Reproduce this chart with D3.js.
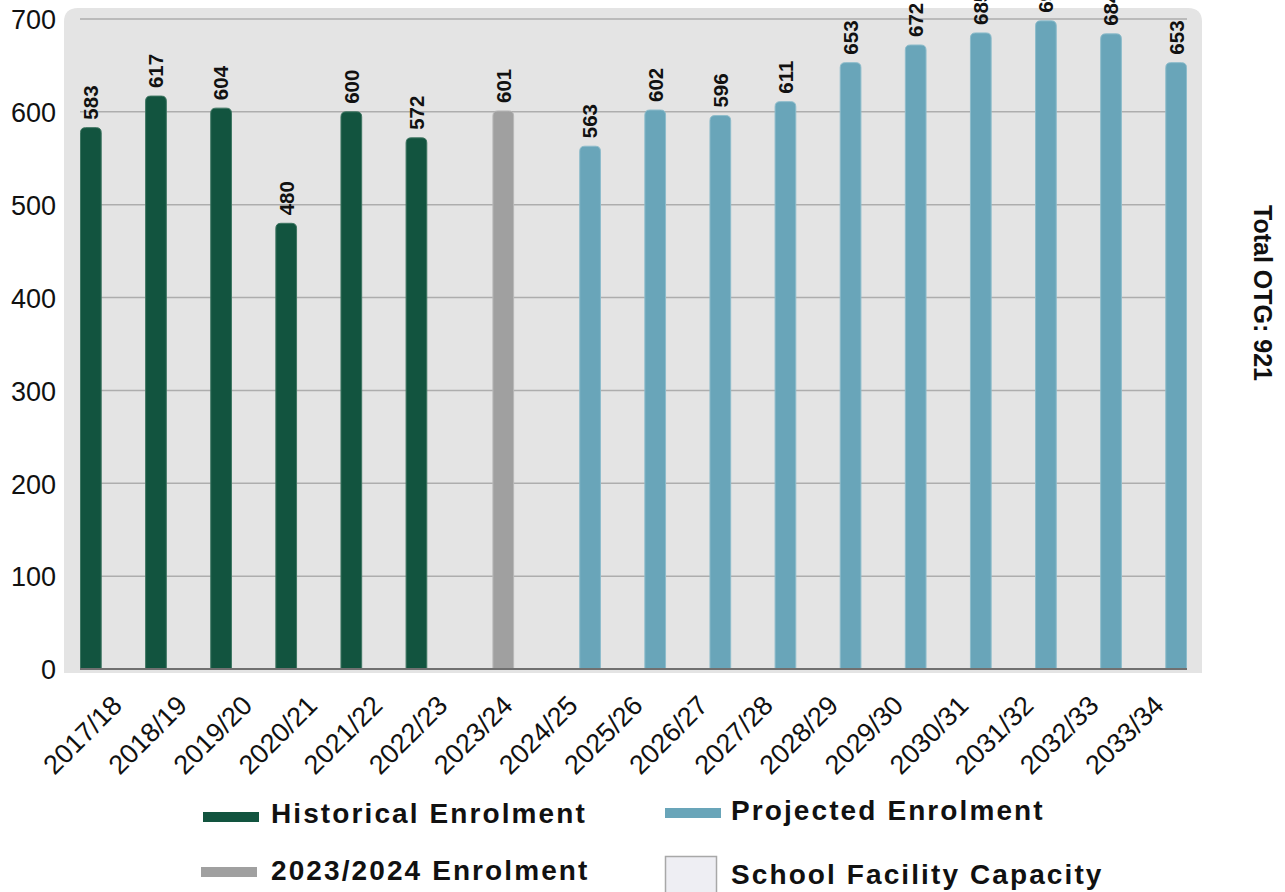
<!DOCTYPE html>
<html>
<head>
<meta charset="utf-8">
<script src="https://cdn.jsdelivr.net/npm/d3@7/dist/d3.min.js"></script>
<style>
  html, body { margin: 0; padding: 0; background: #ffffff; }
  svg { display: block; font-family: "Liberation Sans", Arial, sans-serif; }
</style>
</head>
<body>
<svg id="chart" width="1285" height="892"></svg>
<script>
const categories = ["2017/18","2018/19","2019/20","2020/21","2021/22","2022/23","2023/24","2024/25","2025/26","2026/27","2027/28","2028/29","2029/30","2030/31","2031/32","2032/33","2033/34"];
const historical = [583, 617, 604, 480, 600, 572, null, null, null, null, null, null, null, null, null, null, null];
const current    = [null, null, null, null, null, null, 601, null, null, null, null, null, null, null, null, null, null];
const projected  = [null, null, null, null, null, null, null, 563, 602, 596, 611, 653, 672, 685, 698, 684, 653];
const yTicks = [0, 100, 200, 300, 400, 500, 600, 700];
const seriesNames = ["Historical Enrolment", "2023/2024 Enrolment", "Projected Enrolment", "School Facility Capacity"];
const otgLabel = "Total OTG: 921";

const colors = { hist: "#12543f", cur: "#a0a0a0", proj: "#69a5b9" };
const strokes = { hist: "#3d7561", cur: "#b8b8b8", proj: "#8dbccb" };

const svg = d3.select("#chart");

const x = d3.scaleBand().domain(categories).range([80, 1187]).padding(0);
const sub = d3.scaleBand().domain(["hist", "cur", "proj"]).range([0, x.bandwidth()]).padding(0);
const y = d3.scaleLinear().domain([0, 700]).range([669, 19]);

// plot background with rounded top corners
const bx0 = 64, bx1 = 1202, by0 = 8, by1 = 673, r = 14;
svg.append("path")
  .attr("d", `M${bx0},${by1} L${bx0},${by0 + r} Q${bx0},${by0} ${bx0 + r},${by0} L${bx1 - r},${by0} Q${bx1},${by0} ${bx1},${by0 + r} L${bx1},${by1} Z`)
  .attr("fill", "#e4e4e4");

// gridlines
svg.append("g").selectAll("line")
  .data(yTicks.filter(d => d > 0))
  .join("line")
  .attr("x1", 80).attr("x2", 1187)
  .attr("y1", d => y(d)).attr("y2", d => y(d))
  .attr("stroke", "#adadad").attr("stroke-width", 1.5);

// y-axis labels
const yAxis = d3.axisLeft(y).tickValues(yTicks).tickSize(0).tickPadding(0);
const gy = svg.append("g").attr("transform", "translate(56,0)").call(yAxis);
gy.select(".domain").remove();
gy.selectAll("text")
  .attr("font-size", 27).attr("fill", "#111")
  .attr("font-family", "'Liberation Sans', Arial, sans-serif")
  .attr("dy", "0.36em");

// bars
function roundedTop(x0, w, yTop, yBot, rr) {
  rr = Math.min(rr, w / 2, (yBot - yTop));
  return `M${x0},${yBot} L${x0},${yTop + rr} Q${x0},${yTop} ${x0 + rr},${yTop} L${x0 + w - rr},${yTop} Q${x0 + w},${yTop} ${x0 + w},${yTop + rr} L${x0 + w},${yBot} Z`;
}
const series = [
  { key: "hist", values: historical },
  { key: "cur", values: current },
  { key: "proj", values: projected }
];
const barData = [];
series.forEach(s => {
  s.values.forEach((v, i) => {
    if (v != null) barData.push({ key: s.key, cat: categories[i], v });
  });
});

svg.append("g").selectAll("path")
  .data(barData)
  .join("path")
  .attr("d", d => roundedTop(x(d.cat) + sub(d.key) + 0.5, sub.bandwidth() - 1, y(d.v), y(0), 5))
  .attr("fill", d => colors[d.key])
  .attr("stroke", d => strokes[d.key])
  .attr("stroke-width", 1);

// zero line
svg.append("line")
  .attr("x1", 80).attr("x2", 1187)
  .attr("y1", y(0)).attr("y2", y(0))
  .attr("stroke", "#707070").attr("stroke-width", 2);

// data labels
svg.append("g").selectAll("text")
  .data(barData)
  .join("text")
  .attr("transform", d => `translate(${x(d.cat) + sub(d.key) + sub.bandwidth() / 2},${y(d.v) - 8}) rotate(-90)`)
  .attr("dy", "0.36em")
  .attr("text-anchor", "start")
  .attr("font-size", 20.5).attr("font-weight", "bold")
  .attr("fill", "#111")
  .text(d => d.v);

// x labels
const xAxis = d3.axisBottom(x).tickSize(0).tickPadding(0);
const gx = svg.append("g").attr("transform", "translate(0,0)").call(xAxis);
gx.select(".domain").remove();
gx.selectAll(".tick").attr("transform", d => `translate(${x(d) + x.bandwidth() / 2 + 11},707)`);
gx.selectAll("text")
  .attr("x", 0).attr("y", 0).attr("dy", 0)
  .attr("transform", "rotate(-45)")
  .attr("text-anchor", "end")
  .attr("font-size", 27).attr("fill", "#111")
  .attr("font-family", "'Liberation Sans', Arial, sans-serif");

// legend
const legend = svg.append("g").attr("font-size", 28).attr("font-weight", "bold").attr("fill", "#111")
  .attr("letter-spacing", "2.1px");
const legItems = [
  { name: seriesNames[0], type: "line", color: colors.hist, sx: 203, sy: 812, tx: 271, ty: 823 },
  { name: seriesNames[2], type: "line", color: colors.proj, sx: 665, sy: 808, tx: 731, ty: 820 },
  { name: seriesNames[1], type: "line", color: colors.cur, sx: 201, sy: 867, tx: 271, ty: 880 },
  { name: seriesNames[3], type: "box", color: "#eeeef3", sx: 665, sy: 856, tx: 731, ty: 884 }
];
legItems.forEach(it => {
  if (it.type === "line") {
    legend.append("rect").attr("x", it.sx).attr("y", it.sy).attr("width", 56).attr("height", 10).attr("fill", it.color);
  } else {
    legend.append("rect").attr("x", it.sx + 0.5).attr("y", it.sy + 0.5).attr("width", 51).attr("height", 40)
      .attr("fill", it.color).attr("stroke", "#a8a8a8").attr("stroke-width", 1.5);
  }
  legend.append("text").attr("x", it.tx).attr("y", it.ty).text(it.name);
});

// right side title
svg.append("text")
  .attr("transform", "translate(1254,293) rotate(90)")
  .attr("text-anchor", "middle")
  .attr("font-size", 25).attr("font-weight", "bold").attr("fill", "#111")
  .text(otgLabel);
</script>
</body>
</html>
